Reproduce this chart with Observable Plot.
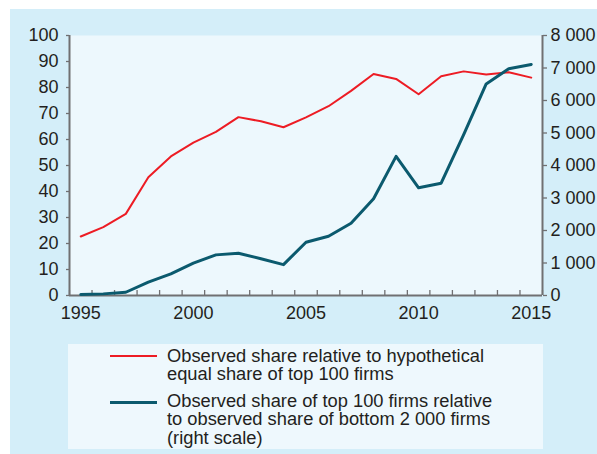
<!DOCTYPE html>
<html>
<head>
<meta charset="utf-8">
<script src="https://cdn.jsdelivr.net/npm/d3@7"></script>
<script src="https://cdn.jsdelivr.net/npm/@observablehq/plot@0.6"></script>
<style>
  html, body { margin: 0; padding: 0; background: #ffffff; }
  body { width: 597px; height: 454px; overflow: hidden; font-family: "Liberation Sans", Arial, sans-serif; }
  #panel { position: absolute; left: 10px; top: 9px; width: 587px; height: 445px; background: #d4eef9; }
  #chart { position: absolute; left: 0; top: 0; }
  #legend { position: absolute; left: 58px; top: 335px; width: 475px; height: 105px; background: #eef8fd; }
  .swatch { position: absolute; left: 42px; width: 47px; }
  .txt { position: absolute; left: 99px; white-space: nowrap; font-size: 18.3px; line-height: 18.5px; color: #231f20; }
</style>
</head>
<body>
<div id="panel">
  <div id="chart"></div>
  <div id="legend"></div>
</div>
<script>
// ---- data ----
const years = [1995, 1996, 1997, 1998, 1999, 2000, 2001, 2002, 2003, 2004, 2005,
               2006, 2007, 2008, 2009, 2010, 2011, 2012, 2013, 2014, 2015];
// left scale: observed share relative to hypothetical equal share of top 100 firms
const equalShareRatio = [22.7, 26.3, 31.4, 45.5, 53.5, 58.8, 62.9, 68.6, 67.0, 64.7, 68.5,
                         72.8, 78.7, 85.2, 83.3, 77.4, 84.3, 86.2, 85.0, 85.9, 83.8];
// right scale: observed share of top 100 relative to bottom 2 000 firms
const topBottomRatio = [30, 50, 100, 410, 665, 995, 1250, 1300, 1130, 950, 1640,
                        1825, 2225, 2975, 4280, 3315, 3455, 4950, 6510, 6975, 7110];
const xDomain = [1994.5, 2015.5];
const xLabelTicks = [1995, 2000, 2005, 2010, 2015];
const xBoundaryTicks = [1994.5, 1995.5, 1996.5, 1997.5, 1998.5, 1999.5, 2000.5, 2001.5, 2002.5,
  2003.5, 2004.5, 2005.5, 2006.5, 2007.5, 2008.5, 2009.5, 2010.5, 2011.5, 2012.5, 2013.5, 2014.5, 2015.5];
const leftTicks = [0, 10, 20, 30, 40, 50, 60, 70, 80, 90, 100];
const rightTicks = [0, 1000, 2000, 3000, 4000, 5000, 6000, 7000, 8000];
const leftDomain = [0, 100];
const rightDomain = [0, 8000];
const seriesNames = [
  "Observed share relative to hypothetical<br>equal share of top 100 firms",
  "Observed share of top 100 firms relative<br>to observed share of bottom 2 000 firms<br>(right scale)"
];
const seriesColors = ["#ed1c24", "#0b5a6e"];

// ---- build ----
const k = rightDomain[1] / leftDomain[1];
const fmtSpace = d3.formatLocale({thousands: "\u00a0", grouping: [3], decimal: ".", currency: ["", ""]}).format(",");
const red = years.map((y, i) => ({year: y, v: equalShareRatio[i]}));
const dark = years.map((y, i) => ({year: y, v: topBottomRatio[i]}));
const axisColor = "#707072";

const chart = Plot.plot({
  width: 587,
  height: 330,
  marginLeft: 59,
  marginRight: 55,
  marginTop: 26,
  marginBottom: 44,
  x: {domain: xDomain, label: null},
  y: {domain: leftDomain, label: null},
  style: {background: "transparent", fontFamily: "'Liberation Sans', Arial, sans-serif", fontSize: "18px", color: "#231f20"},
  marks: [
    Plot.frame({fill: "#edf8fd", stroke: null}),
    Plot.axisX({ticks: xBoundaryTicks, tickFormat: () => "", tickSize: -5, stroke: axisColor, strokeWidth: 1.3, label: null}),
    Plot.axisX({ticks: xLabelTicks, tickFormat: d => String(d), tickSize: 0, tickPadding: 11, fill: "#231f20", label: null}),
    Plot.axisY({anchor: "left", ticks: leftTicks, tickSize: 3, tickPadding: 8, stroke: axisColor, strokeWidth: 1.3, fill: "#231f20", label: null}),
    Plot.axisY({anchor: "right", ticks: rightTicks.map(d => d / k),
      tickFormat: d => fmtSpace(Math.round(d * k)), tickSize: 4, tickPadding: 4, stroke: axisColor, strokeWidth: 1.3, fill: "#231f20", label: null}),
    Plot.ruleY([leftDomain[0]], {stroke: axisColor, strokeWidth: 2}),
    Plot.ruleX([xDomain[0]], {stroke: axisColor, strokeWidth: 2}),
    Plot.ruleX([xDomain[1]], {stroke: axisColor, strokeWidth: 2}),
    Plot.line(red, {x: "year", y: "v", stroke: seriesColors[0], strokeWidth: 2}),
    Plot.line(dark, {x: "year", y: d => d.v / k, stroke: seriesColors[1], strokeWidth: 3})
  ]
});
document.getElementById("chart").appendChild(chart);

// legend
const legend = document.getElementById("legend");
const rowTops = [2.5, 47.5];
const swatchTops = [11, 56.5];
seriesNames.forEach((name, i) => {
  const sw = document.createElement("div");
  sw.className = "swatch";
  sw.style.top = swatchTops[i] + "px";
  sw.style.borderTop = (i ? 3 : 2) + "px solid " + seriesColors[i];
  legend.appendChild(sw);
  const t = document.createElement("div");
  t.className = "txt";
  t.style.top = rowTops[i] + "px";
  t.innerHTML = name;
  legend.appendChild(t);
});
</script>
</body>
</html>
